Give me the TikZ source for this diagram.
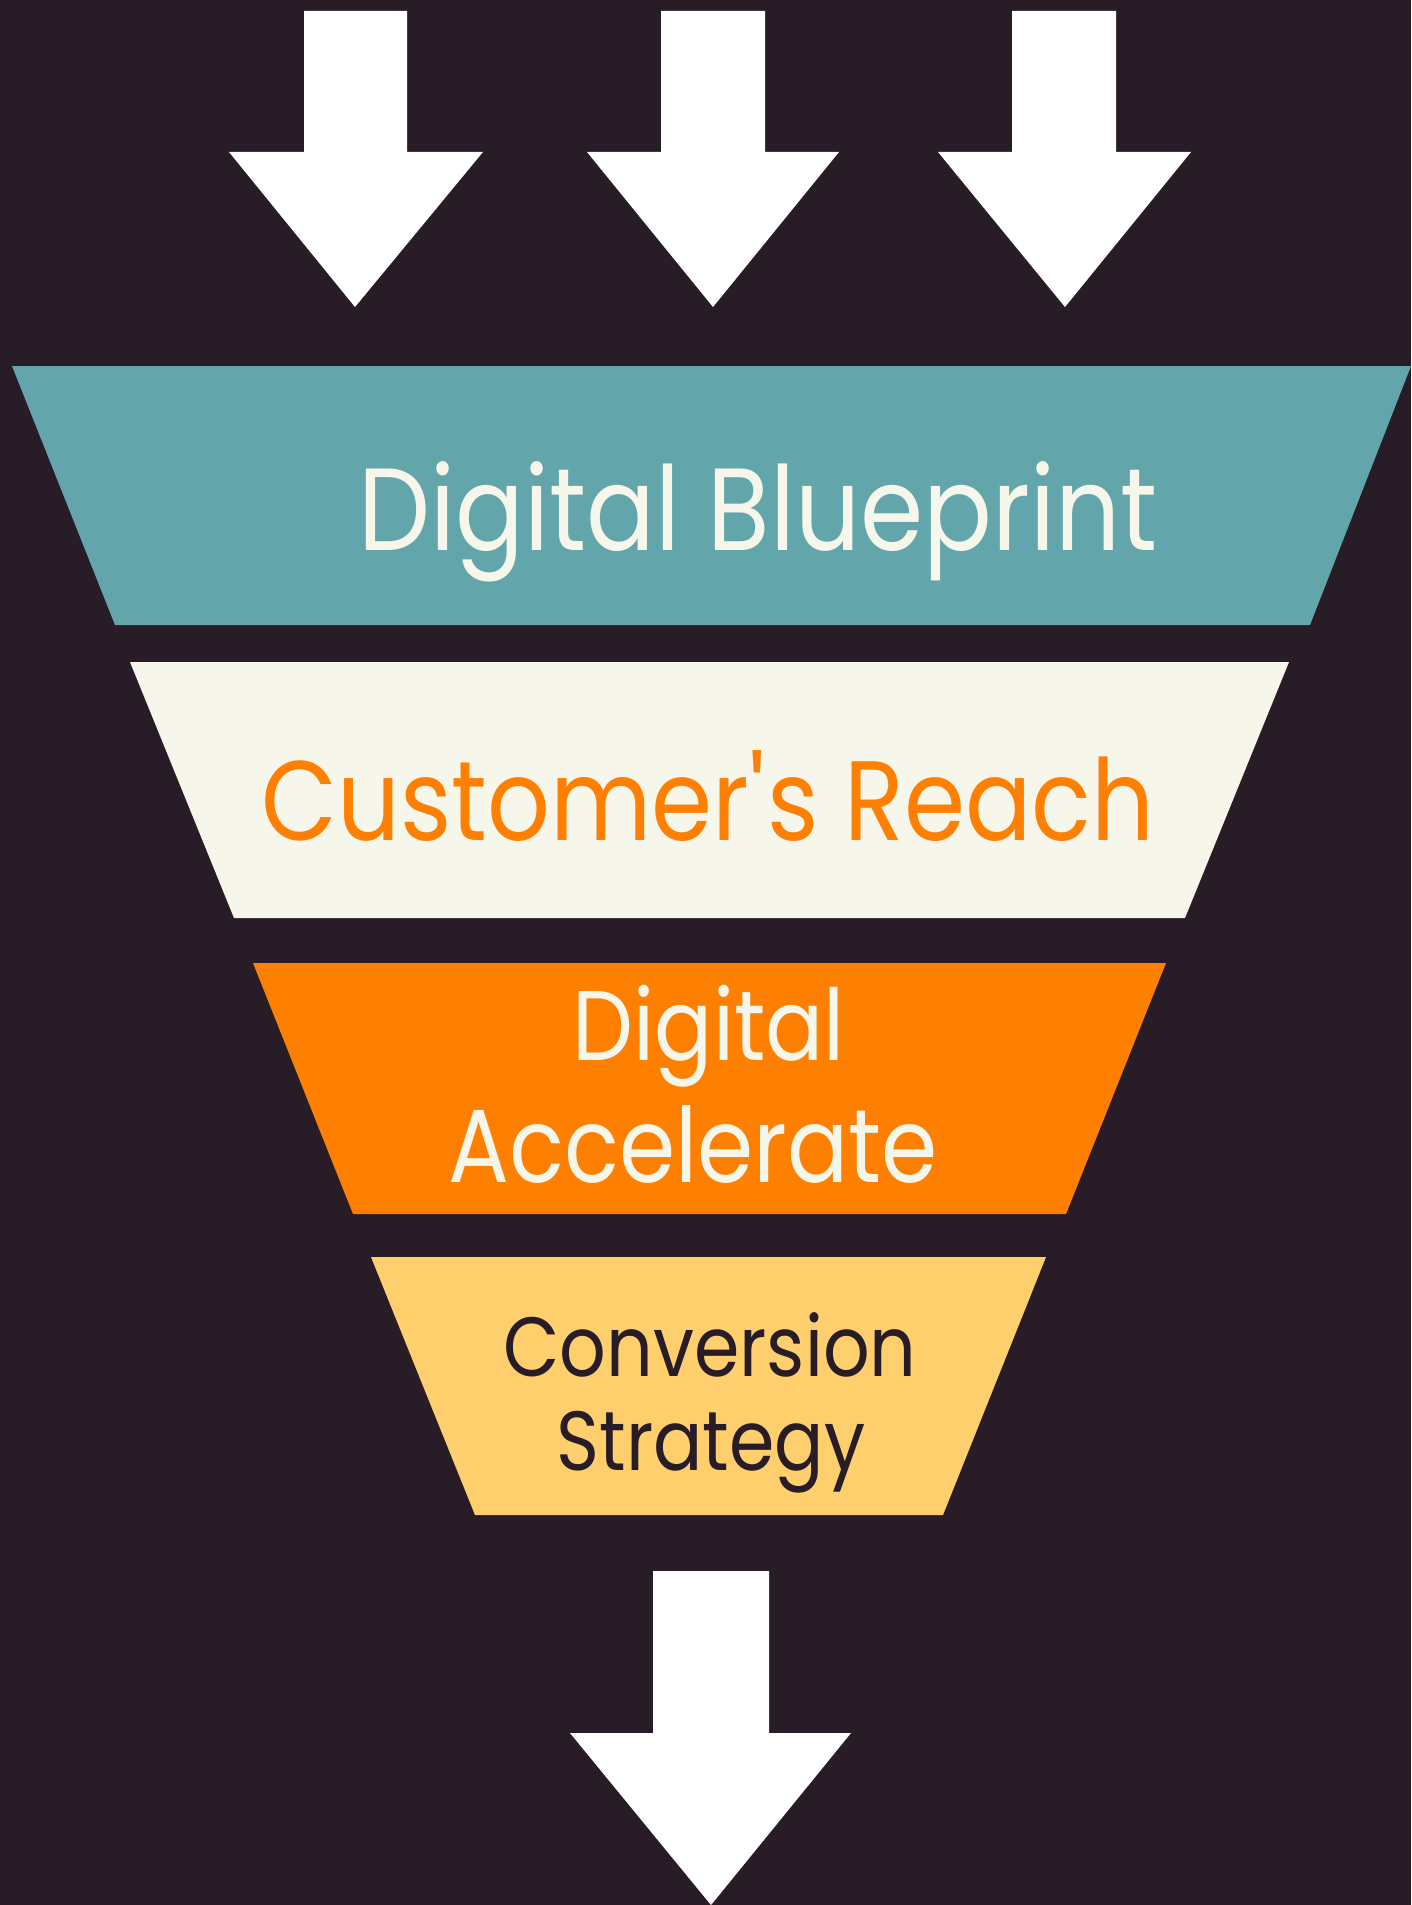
\documentclass[tikz,border=0pt]{standalone}
\usepackage{fontspec}
\setmainfont{Poppins}[FakeStretch=0.87]
\definecolor{funnelbg}{HTML}{281C26}
\definecolor{funnelteal}{HTML}{62A6AB}
\definecolor{funnelcream}{HTML}{F6F6EA}
\definecolor{funnelorange}{HTML}{FF8000}
\definecolor{funnelyellow}{HTML}{FFCF6E}
\tikzset{
  pointer/.style={ % style for the white arrows
    fill=white,
  },
  layer/.style={ % style for each funnel layer
    draw=none,
  },
  stagetext/.style={ % style for the texts in the layers
    inner sep=0pt, % no padding, so the anchor sits on the baseline
    anchor=base,
  },
}
\begin{document}
\begin{tikzpicture}[x=1pt,y=-1pt]

	\fill[funnelbg] (0,0) rectangle (1411,1905);

	% arrows into the funnel
	\fill[pointer] (304,11) -- (407,11) -- (407,152) -- (483,152) -- (355,307) -- (229,152) -- (304,152) -- cycle;
	\fill[pointer] (661,11) -- (765,11) -- (765,152) -- (839,152) -- (713,307) -- (587,152) -- (661,152) -- cycle;
	\fill[pointer] (1012,11) -- (1116,11) -- (1116,152) -- (1191,152) -- (1065,307) -- (938,152) -- (1012,152) -- cycle;

	% funnel layers
	\fill[layer,funnelteal] (12,366) -- (1411,366) -- (1310,625) -- (115,625) -- cycle;
	\fill[layer,funnelcream] (130,662) -- (1289,662) -- (1185,918) -- (234,918) -- cycle;
	\fill[layer,funnelorange] (253,963) -- (1166,963) -- (1066,1214) -- (353,1214) -- cycle;
	\fill[layer,funnelyellow] (371,1257) -- (1046,1257) -- (943,1515) -- (475,1515) -- cycle;

	\node[stagetext,text=funnelcream,font=\fontsize{117}{117}\selectfont] (blueprint) at (758,550) {Digital Blueprint};
	\node[stagetext,text=funnelorange,font=\fontsize{113}{113}\selectfont] (reach) at (708,840) {Customer\textquotesingle s Reach};
	\node[stagetext,text=funnelcream,font=\fontsize{99}{99}\selectfont] (accel1) at (709,1060) {Digital};
	\node[stagetext,text=funnelcream,font=\fontsize{104}{104}\selectfont] (accel2) at (693,1182) {Accelerate};
	\node[stagetext,text=funnelbg,font=\fontsize{84}{84}\selectfont] (conv1) at (710,1376) {Conversion};
	\node[stagetext,text=funnelbg,font=\fontsize{84}{84}\selectfont] (conv2) at (711,1470) {Strategy};

	% arrow out of the funnel
	\fill[pointer] (653,1571) -- (769,1571) -- (769,1733) -- (851,1733) -- (711,1905) -- (570,1733) -- (653,1733) -- cycle;

\end{tikzpicture}
\end{document}
